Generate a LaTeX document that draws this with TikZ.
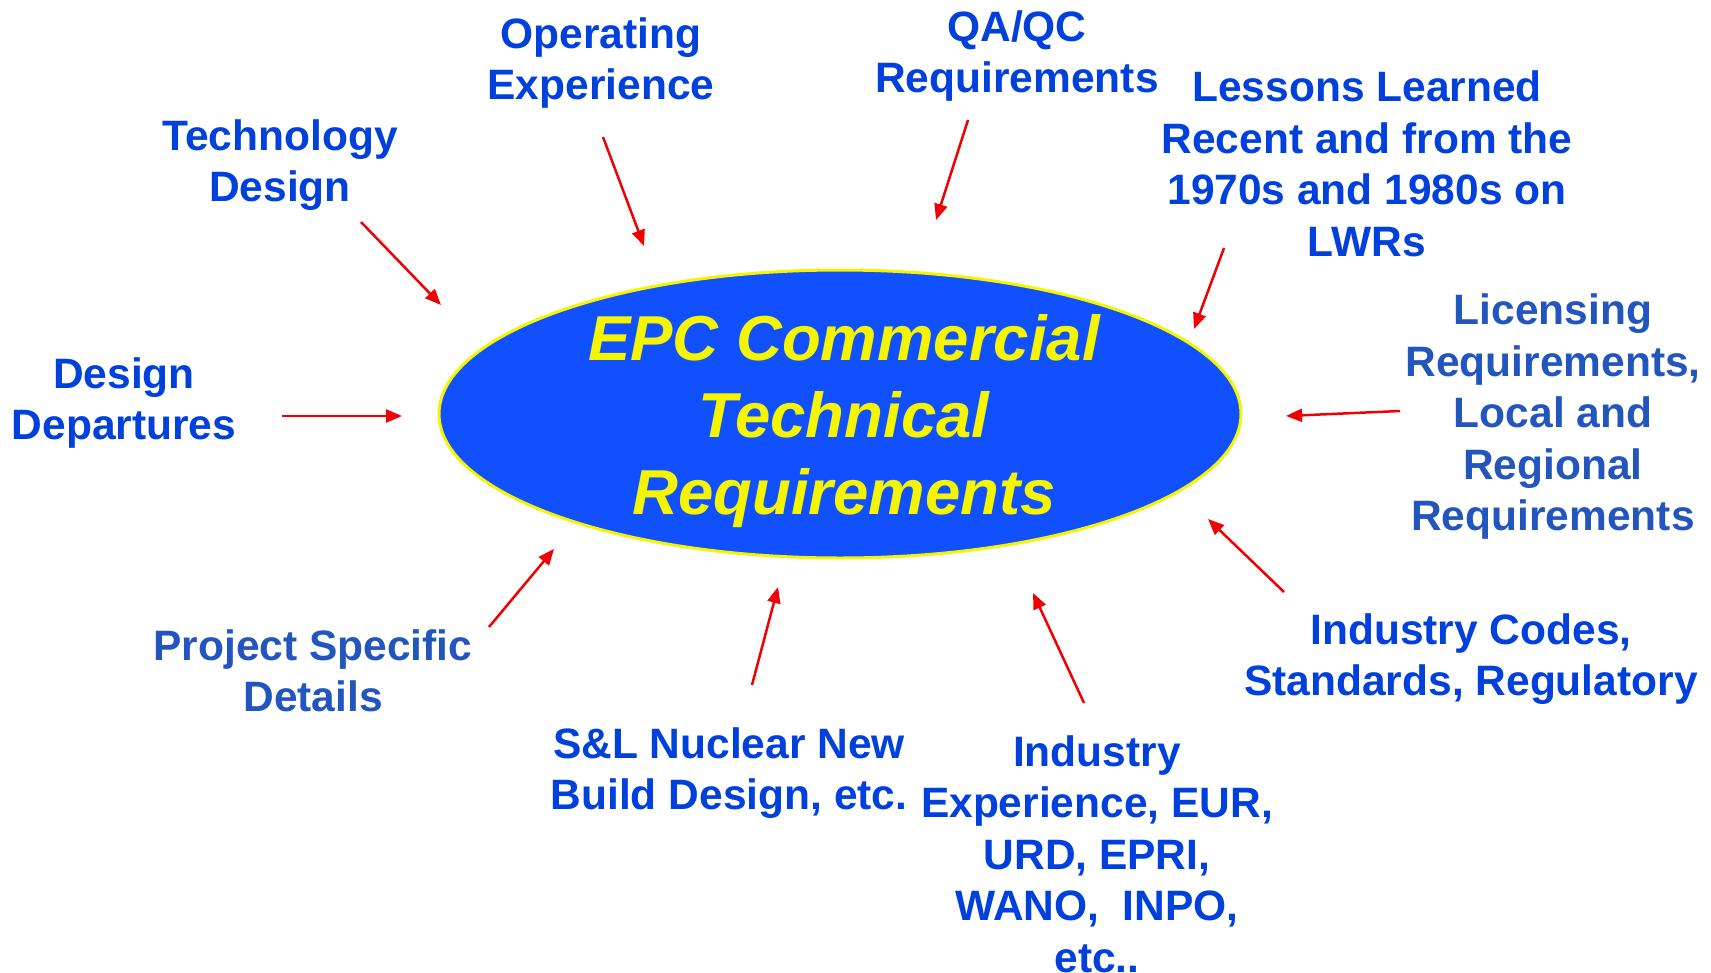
\documentclass[tikz,border=0pt]{standalone}
\usepackage{fontspec}
\setmainfont{Liberation Sans}
\usetikzlibrary{shapes.geometric,arrows.meta}
\definecolor{lblue}{RGB}{0,64,221}
\definecolor{mblue}{RGB}{34,85,190}
\definecolor{efill}{RGB}{16,80,255}
\definecolor{eyel}{RGB}{245,245,0}
\definecolor{ared}{RGB}{240,0,0}
\tikzset{
  lbl/.style={align=center, inner sep=0pt, text=lblue, font=\fontsize{42.5}{51.5}\selectfont\bfseries},
  lblm/.style={lbl, text=mblue},
  feed/.style={draw=ared, line width=2.5pt, -{Triangle[length=16pt,width=13pt]}},
}
\begin{document}
\begin{tikzpicture}[x=1pt,y=-1pt]
\useasboundingbox (0,0) rectangle (1711,972);
\fill[white] (0,0) rectangle (1711,972);
% central ellipse
\node[ellipse, draw=eyel, line width=3pt, fill=efill, minimum width=802pt, minimum height=288pt, inner sep=0pt] (epc) at (840,414) {};
\node[align=center, inner sep=0pt, text=eyel, font=\fontsize{63.5}{77}\selectfont\bfseries\itshape] (epct) at (844,421) {EPC Commercial\\Technical\\Requirements};
% labels
\node[lbl] (tech) at (280,165) {Technology\\Design};
\node[lbl] (oper) at (601,63) {Operating\\Experience};
\node[lbl] (qaqc) at (1017,56) {QA/QC\\Requirements};
\node[lbl] (less) at (1367,164) {Lessons Learned\\Recent and from the\\1970s and 1980s on\\LWRs};
\node[lbl] (ddep) at (124,403) {Design\\Departures};
\node[lblm] (lic) at (1553,417) {Licensing\\Requirements,\\Local and\\Regional\\Requirements};
\node[lbl] (codes) at (1471,659) {Industry Codes,\\Standards, Regulatory};
\node[lbl] (indx) at (1097,854) {Industry\\Experience, EUR,\\URD, EPRI,\\WANO,\ \ INPO,\\etc..};
\node[lbl] (snl) at (729,773) {S\&L Nuclear New\\Build Design, etc.};
\node[lblm] (proj) at (313,671) {Project Specific\\Details};
% arrow end points
\coordinate (tech-s) at (361,222);  \coordinate (tech-e) at (441,305);
\coordinate (oper-s) at (603,137);  \coordinate (oper-e) at (644,246);
\coordinate (qaqc-s) at (968,120);  \coordinate (qaqc-e) at (936,220);
\coordinate (less-s) at (1224,248); \coordinate (less-e) at (1194,329);
\coordinate (ddep-s) at (282,416);  \coordinate (ddep-e) at (402,416);
\coordinate (lic-s) at (1400,411);  \coordinate (lic-e) at (1286,416);
\coordinate (codes-s) at (1284,592); \coordinate (codes-e) at (1208,519);
\coordinate (indx-s) at (1084,703); \coordinate (indx-e) at (1033,593);
\coordinate (snl-s) at (752,685);   \coordinate (snl-e) at (778,587);
\coordinate (proj-s) at (489,627);  \coordinate (proj-e) at (554,549);
\draw[feed] (tech-s) -- (tech-e);
\draw[feed] (oper-s) -- (oper-e);
\draw[feed] (qaqc-s) -- (qaqc-e);
\draw[feed] (less-s) -- (less-e);
\draw[feed] (ddep-s) -- (ddep-e);
\draw[feed] (lic-s) -- (lic-e);
\draw[feed] (codes-s) -- (codes-e);
\draw[feed] (indx-s) -- (indx-e);
\draw[feed] (snl-s) -- (snl-e);
\draw[feed] (proj-s) -- (proj-e);
\end{tikzpicture}
\end{document}
